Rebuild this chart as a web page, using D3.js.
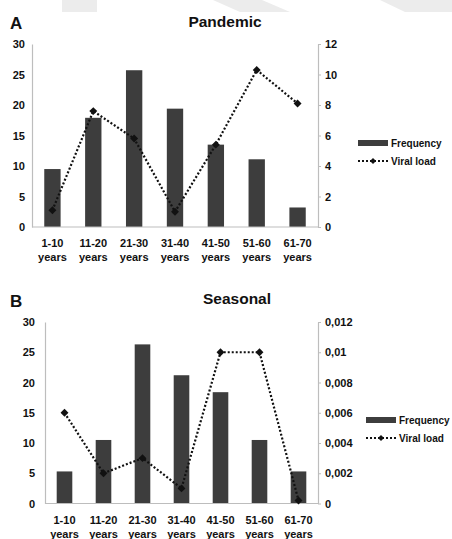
<!DOCTYPE html>
<html>
<head>
<meta charset="utf-8">
<script src="https://cdn.jsdelivr.net/npm/d3@7/dist/d3.min.js"></script>
<style>
  html, body { margin: 0; padding: 0; background: #fff; }
  svg { display: block; }
  text { font-family: "Liberation Sans", Arial, sans-serif; font-weight: bold; fill: #111; }
</style>
</head>
<body>
<svg id="chart" width="452" height="539"></svg>
<script>
// ---- data ----
const categories = ["1-10", "11-20", "21-30", "31-40", "41-50", "51-60", "61-70"];
const categorySuffix = "years";

const pandemicFrequency = [9.5, 17.9, 25.7, 19.4, 13.5, 11.1, 3.2];
const pandemicViralLoad = [1.1, 7.6, 5.8, 1.0, 5.4, 10.3, 8.1];

const seasonalFrequency = [5.3, 10.5, 26.3, 21.2, 18.4, 10.5, 5.3];
const seasonalViralLoad = [0.006, 0.002, 0.003, 0.001, 0.01, 0.01, 0.0002];

const leftTicks = [0, 5, 10, 15, 20, 25, 30];
const pandemicRightTicks = [0, 2, 4, 6, 8, 10, 12];
const pandemicRightTickLabels = ["0", "2", "4", "6", "8", "10", "12"];
const seasonalRightTicks = [0, 0.002, 0.004, 0.006, 0.008, 0.01, 0.012];
const seasonalRightTickLabels = ["0", "0,002", "0,004", "0,006", "0,008", "0,01", "0,012"];

const legendLabels = ["Frequency", "Viral load"];

// ---- drawing ----
const svg = d3.select("#chart");

// faint watermark shapes at the top
const wm = svg.append("g").attr("fill", "#ececec");
wm.append("polygon").attr("points", "62,0 97,0 97,12 62,12");
wm.append("polygon").attr("points", "213,0 262,0 290,12 240,12");
wm.append("polygon").attr("points", "380,0 452,0 452,12 405,12");

function panel(cfg) {
  const g = svg.append("g");
  const x = d3.scaleBand().domain(categories).range([cfg.x0, cfg.x1]).paddingInner(0.6).paddingOuter(0.3);
  const yL = d3.scaleLinear().domain([0, 30]).range([cfg.y1, cfg.y0]);
  const yR = d3.scaleLinear().domain([0, cfg.rightMax]).range([cfg.y1, cfg.y0]);

  // bars
  g.append("g").selectAll("rect").data(cfg.freq).join("rect")
    .attr("x", (d, i) => x(categories[i]))
    .attr("width", x.bandwidth())
    .attr("y", d => yL(d))
    .attr("height", d => yL(0) - yL(d))
    .attr("fill", "#3d3d3d");

  // left axis
  const la = g.append("g").attr("transform", `translate(${cfg.x0},0)`)
    .call(d3.axisLeft(yL).tickValues(leftTicks).tickSize(0).tickPadding(cfg.leftPad));
  la.select(".domain").attr("stroke", "#bdbdbd").attr("stroke-width", 1.2);
  la.selectAll("text").style("font-size", "11px").style("font-family", "Liberation Sans, Arial, sans-serif").attr("fill", "#111");

  // right axis
  const ra = g.append("g").attr("transform", `translate(${cfg.x1},0)`)
    .call(d3.axisRight(yR).tickValues(cfg.rightTicks).tickFormat((d, i) => cfg.rightLabels[i]).tickSizeInner(3).tickSizeOuter(0).tickPadding(4));
  ra.select(".domain").attr("stroke", "#bdbdbd").attr("stroke-width", 1.2);
  ra.selectAll(".tick line").attr("stroke", "#bdbdbd");
  ra.selectAll("text").style("font-size", "11px").style("font-family", "Liberation Sans, Arial, sans-serif").attr("fill", "#111");

  // bottom axis
  const ba = g.append("g").attr("transform", `translate(0,${cfg.y1})`)
    .call(d3.axisBottom(x).tickSize(0).tickPadding(0));
  ba.select(".domain").attr("stroke", "#bdbdbd").attr("stroke-width", 1.2).attr("d", `M${cfg.x0},0H${cfg.x1}`);
  ba.selectAll(".tick text").each(function(d) {
    const t = d3.select(this);
    t.text(null).attr("y", 0).attr("dy", null)
      .style("font-size", "11px").style("font-family", "Liberation Sans, Arial, sans-serif").attr("fill", "#111");
    t.append("tspan").attr("x", 0).attr("y", cfg.lab1).text(d);
    t.append("tspan").attr("x", 0).attr("y", cfg.lab2).text(categorySuffix);
  });

  // viral load line
  const line = d3.line().x((d, i) => x(categories[i]) + x.bandwidth() / 2).y(d => yR(d));
  g.append("path").datum(cfg.viral)
    .attr("d", line).attr("fill", "none")
    .attr("stroke", "#111").attr("stroke-width", 2.2).attr("stroke-dasharray", "2,2");
  const sym = d3.symbol().type(d3.symbolDiamond2).size(40);
  g.append("g").selectAll("path").data(cfg.viral).join("path")
    .attr("d", sym)
    .attr("transform", (d, i) => `translate(${x(categories[i]) + x.bandwidth() / 2},${yR(d)})`)
    .attr("fill", "#111");

  // titles
  g.append("text").attr("x", 10).attr("y", cfg.letterY).style("font-size", "17px").text(cfg.letter);
  g.append("text").attr("x", cfg.titleX).attr("y", cfg.titleY).attr("text-anchor", "middle").style("font-size", "15.5px").text(cfg.title);

  // legend
  const lg = g.append("g").attr("transform", `translate(${cfg.legX},${cfg.legY})`);
  lg.append("rect").attr("x", 0).attr("y", -3).attr("width", 30).attr("height", 6).attr("fill", "#3d3d3d");
  lg.append("text").attr("x", 33).attr("y", 0).attr("dy", "0.35em").style("font-size", "10px").text(legendLabels[0]);
  lg.append("line").attr("x1", 0).attr("x2", 30).attr("y1", 18).attr("y2", 18)
    .attr("stroke", "#111").attr("stroke-width", 1.8).attr("stroke-dasharray", "2,2");
  lg.append("path").attr("d", d3.symbol().type(d3.symbolDiamond2).size(24)).attr("transform", "translate(15,18)").attr("fill", "#111");
  lg.append("text").attr("x", 33).attr("y", 18).attr("dy", "0.35em").style("font-size", "10px").text(legendLabels[1]);
}

panel({
  x0: 32, x1: 318, y0: 44, y1: 227, rightMax: 12,
  freq: pandemicFrequency, viral: pandemicViralLoad,
  rightTicks: pandemicRightTicks, rightLabels: pandemicRightTickLabels,
  leftPad: 7, lab1: 20, lab2: 34,
  letter: "A", letterY: 29, title: "Pandemic", titleX: 225, titleY: 27,
  legX: 358, legY: 143
});

panel({
  x0: 45, x1: 318, y0: 322, y1: 503.5, rightMax: 0.012,
  freq: seasonalFrequency, viral: seasonalViralLoad,
  rightTicks: seasonalRightTicks, rightLabels: seasonalRightTickLabels,
  leftPad: 10, lab1: 20.5, lab2: 34,
  letter: "B", letterY: 307, title: "Seasonal", titleX: 237, titleY: 304,
  legX: 366, legY: 420
});
</script>
</body>
</html>
